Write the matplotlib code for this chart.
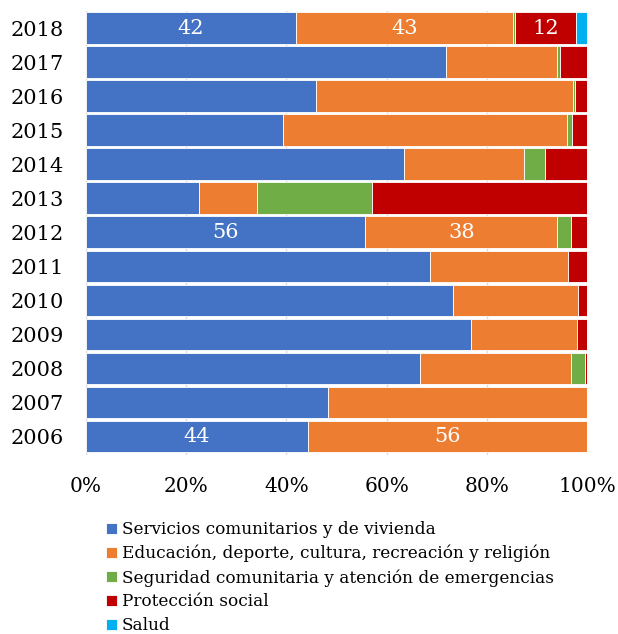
import numpy as np
import matplotlib
matplotlib.use("Agg")
import matplotlib.pyplot as plt

plt.rcParams['font.family'] = ['DejaVu Serif']

# years, top to bottom as in the chart
years = ['2018', '2017', '2016', '2015', '2014', '2013', '2012',
         '2011', '2010', '2009', '2008', '2007', '2006']

# shares in percent, one list per category (same order as years)
servicios = [41.9, 71.8, 45.9, 39.4, 63.5, 22.6, 55.7, 68.7, 73.2, 76.8, 66.6, 48.3, 44.3]
educacion = [43.4, 22.2, 51.4, 56.7, 24.0, 11.5, 38.4, 27.5, 25.0, 21.3, 30.3, 51.7, 55.7]
seguridad = [0.4, 0.6, 0.4, 0.9, 4.1, 23.0, 2.8, 0.0, 0.0, 0.0, 2.7, 0.0, 0.0]
proteccion = [12.1, 5.4, 2.3, 3.0, 8.4, 42.9, 3.1, 3.8, 1.8, 1.9, 0.4, 0.0, 0.0]
salud = [2.3, 0, 0, 0, 0, 0, 0, 0, 0, 0, 0, 0, 0]

series_names = ['Servicios comunitarios y de vivienda',
                'Educación, deporte, cultura, recreación y religión',
                'Seguridad comunitaria y atención de emergencias',
                'Protección social',
                'Salud']
colors = ['#4472C4', '#ED7D31', '#70AD47', '#C00000', '#00B0F0']

# only these years carry value labels
labelled_years = ['2018', '2012', '2006']

series = [servicios, educacion, seguridad, proteccion, salud]

fig = plt.figure(figsize=(6.18, 6.34), dpi=100)
ax = fig.add_axes([86 / 618, 1 - 455 / 634, 501 / 618, 444 / 634])

y = np.arange(len(years))[::-1]
left = np.zeros(len(years))
for vals, name, col in zip(series, series_names, colors):
    vals = np.array(vals, dtype=float)
    bars = ax.barh(y, vals, left=left, height=0.92, color=col,
                   edgecolor='white', linewidth=0.6, label=name, zorder=2)
    for i, b in enumerate(bars):
        if years[i] in labelled_years and vals[i] >= 5:
            ax.text(left[i] + vals[i] / 2, y[i], f"{vals[i]:.0f}",
                    ha='center', va='center', color='white', fontsize=15, zorder=3)
    left += vals

ax.set_xlim(0, 100)
ax.set_ylim(-0.55, len(years) - 0.5)
ax.set_xticks(np.arange(0, 101, 20))
ax.set_xticklabels([f"{t}%" for t in range(0, 101, 20)], fontsize=14.5)
ax.set_yticks(y)
ax.set_yticklabels(years, fontsize=15)
ax.tick_params(axis='y', length=0, pad=16)
ax.tick_params(axis='x', length=0, pad=16)
ax.grid(axis='x', color='#D9D9D9', linewidth=1, zorder=0)
for s in ax.spines.values():
    s.set_visible(False)

fig.legend(loc='upper left', bbox_to_anchor=(106 / 618, 1 - 521 / 634),
           frameon=False, fontsize=12.2, handlelength=0.62, handleheight=0.62,
           handletextpad=0.3, labelspacing=0.4, borderaxespad=0, borderpad=0)

fig.savefig("out.png", dpi=100)
